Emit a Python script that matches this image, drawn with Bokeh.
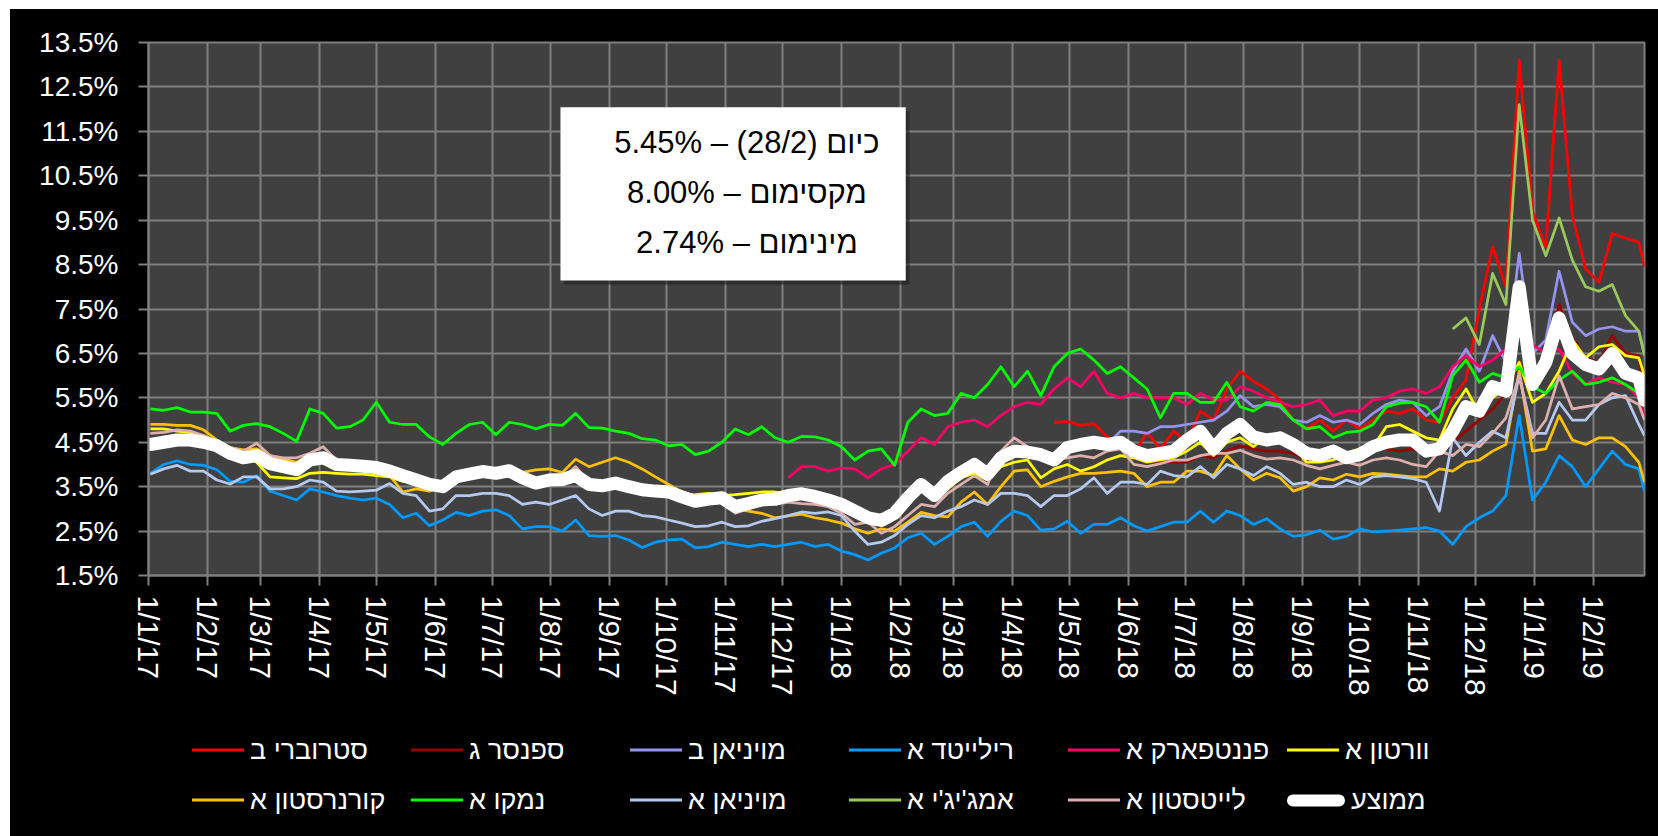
import numpy as np
import pandas as pd
from bokeh.plotting import figure
from bokeh.layouts import column
from bokeh.models import (Range1d, FixedTicker, ColumnDataSource, Div,
                          BoxAnnotation, Label, PrintfTickFormatter)
from bokeh.embed import file_html
from bokeh.resources import INLINE

nan = float("nan")

# ---------------- data ----------------
dates = list(pd.date_range("2017-01-02", periods=113, freq="7D")) + [pd.Timestamp("2019-02-28")]

tick_dates = ["2017-01-01", "2017-02-01", "2017-03-01", "2017-04-01", "2017-05-01", "2017-06-01",
              "2017-07-01", "2017-08-01", "2017-09-01", "2017-10-01", "2017-11-01", "2017-12-01",
              "2018-01-01", "2018-02-01", "2018-03-01", "2018-04-01", "2018-05-01", "2018-06-01",
              "2018-07-01", "2018-08-01", "2018-09-01", "2018-10-01", "2018-11-01", "2018-12-01",
              "2019-01-01", "2019-02-01"]
tick_labels = ["1/1/17", "1/2/17", "1/3/17", "1/4/17", "1/5/17", "1/6/17", "1/7/17", "1/8/17",
               "1/9/17", "1/10/17", "1/11/17", "1/12/17", "1/1/18", "1/2/18", "1/3/18", "1/4/18",
               "1/5/18", "1/6/18", "1/7/18", "1/8/18", "1/9/18", "1/10/18", "1/11/18", "1/12/18",
               "1/1/19", "1/2/19"]
y_ticks = [1.5, 2.5, 3.5, 4.5, 5.5, 6.5, 7.5, 8.5, 9.5, 10.5, 11.5, 12.5, 13.5]

names = ["סטרוברי ב", "ספנסר ג", "מויניאן ב", "רילייטד א", "פננטפארק א", "וורטון א",
         "קורנרסטון א", "נמקו א", "מויניאן א", "אמג'יג'י א", "לייטסטון א", "ממוצע"]

strawberry_b = [nan] * 68 + [
    4.95, 4.97, 4.88, 4.92, 4.62, 4.5, 4.25, 4.72, 4.35, 4.75, 4.5, 5.2, 5.0, 5.7, 6.1, 5.87,
    5.7, 5.45, 5.0, 4.8, 5.0, 4.75, 5.0,
    4.8, 5.0, 5.2, 5.15, 5.25, 5.0, 4.95, 5.5, 5.9, 7.5, 8.9, 8.0, 13.1, 9.7, 8.9, 13.1,
    9.6, 8.4, 8.1, 9.2, 9.1, 9.0, 8.45]

spencer_g = [nan] * 68 + [
    4.05, 4.3, 4.35, 4.4, 4.35, 4.4, 4.15, 4.05, 4.05, 4.05, 4.05, 4.2, 4.15, 4.3, 4.42, 4.35,
    4.3, 4.3, 4.25, 4.1, 4.1, 4.15, 4.2,
    4.3, 4.35, 4.35, 4.3, 4.35, 4.25, 4.4, 4.5, 4.75, 5.0, 5.25, 5.6, 6.3, 5.7, 6.1, 7.6,
    6.85, 6.4, 6.3, 6.9, 6.5, 6.45, 5.3]

moinian_b = [nan] * 55 + [
    2.85, 3.0, 3.35, 3.5, 3.3, 3.6, 3.8, 4.0, 3.8, 4.1, 4.3, 4.2, 4.2,
    4.15, 4.4, 4.45, 4.5, 4.45, 4.75, 4.75, 4.7, 4.85, 4.85, 4.9, 4.95, 5.0, 5.2, 5.55, 5.3,
    5.35, 5.3, 5.0, 4.95, 5.1, 4.95, 5.0,
    4.9, 5.15, 5.35, 5.45, 5.4, 5.1, 5.3, 6.1, 6.6, 6.1, 6.9, 6.3, 8.75, 6.5, 6.8, 8.35,
    7.2, 6.9, 7.05, 7.1, 7.0, 7.0, 6.5]

related_a = [
    3.8, 4.0, 4.08, 4.0, 3.98, 3.88, 3.62, 3.6, 3.75, 3.4, 3.3, 3.2, 3.45, 3.38, 3.3, 3.24,
    3.2, 3.24, 3.1, 2.8, 2.9, 2.62, 2.75,
    2.92, 2.85, 2.95, 2.98, 2.85, 2.55, 2.6, 2.6, 2.5, 2.75, 2.4, 2.38, 2.4, 2.3, 2.13, 2.25,
    2.3, 2.32, 2.12, 2.15, 2.25, 2.2, 2.15,
    2.2, 2.15, 2.2, 2.25, 2.15, 2.2, 2.05, 1.97, 1.85, 2.0, 2.12, 2.35, 2.45, 2.2, 2.38, 2.6,
    2.7, 2.38, 2.72, 2.95, 2.85, 2.52,
    2.55, 2.72, 2.45, 2.65, 2.65, 2.8, 2.62, 2.5, 2.6, 2.7, 2.7, 2.95, 2.7, 2.95, 2.85, 2.65,
    2.78, 2.55, 2.38, 2.42, 2.52, 2.32, 2.38,
    2.55, 2.48, 2.5, 2.52, 2.55, 2.58, 2.5, 2.2, 2.6, 2.8, 2.95, 3.3, 5.1, 3.2, 3.6, 4.2,
    3.95, 3.5, 3.9, 4.3, 4.0, 3.9, 3.4]

pennantpark_a = [nan] * 48 + [
    3.7, 3.95, 3.95, 3.85, 3.92, 3.9, 3.7, 3.9, 4.0, 4.3, 4.6, 4.45, 4.85, 4.95, 5.0, 4.85,
    5.1, 5.3, 5.4, 5.35,
    5.7, 5.95, 5.75, 6.1, 5.6, 5.5, 5.6, 5.5, 5.5, 5.5, 5.35, 5.6, 5.45, 5.45, 5.75, 5.65,
    5.5, 5.4, 5.3, 5.35, 5.45, 5.1, 5.2,
    5.2, 5.45, 5.5, 5.65, 5.7, 5.6, 5.75, 6.2, 6.45, 6.2, 6.35, 6.6, 7.2, 6.7, 6.5, 6.6,
    6.05, 5.8, 5.95, 5.85, 5.8, 5.5, 5.1]

warton_a = [
    4.8, 4.8, 4.75, 4.72, 4.65, 4.5, 4.3, 4.2, 4.05, 3.72, 3.7, 3.68, 3.8, 3.82, 3.8, 3.78,
    3.78, 3.75, 3.72, 3.62, 3.6, 3.58, 3.55,
    3.7, 3.72, 3.75, 3.72, 3.78, 3.7, 3.6, 3.62, 3.6, 3.7, 3.55, 3.5, 3.52, 3.48, 3.42, 3.38,
    3.35, 3.3, 3.32, 3.35, 3.3, 3.32, 3.35,
    3.38, 3.38, 3.35, 3.3, 3.25, 3.15, 3.0, 2.9, 2.8, 2.72, 2.85, 3.1, 3.4, 3.2, 3.45, 3.7,
    3.8, 3.65, 3.95, 4.05, 4.1, 3.7,
    3.9, 4.0, 3.85, 3.95, 4.1, 4.2, 4.15, 4.05, 4.1, 4.15, 4.3, 4.5, 4.2, 4.5, 4.6, 4.4,
    4.65, 4.7, 4.4, 4.05, 4.05, 4.1, 4.25,
    4.35, 4.4, 4.85, 4.9, 4.75, 4.6, 4.55, 5.25, 5.7, 5.15, 5.5, 5.75, 6.3, 5.4, 5.6, 6.1,
    6.8, 6.4, 6.65, 6.7, 6.45, 6.4, 6.0]

cornerstone_a = [
    4.9, 4.9, 4.88, 4.88, 4.78, 4.55, 4.38, 4.33, 4.35, 4.2, 4.12, 4.05, 4.2, 4.22, 4.1, 4.08,
    4.02, 3.8, 3.75, 3.38, 3.45, 3.4, 3.5,
    3.62, 3.75, 3.8, 3.78, 3.95, 3.82, 3.88, 3.9, 3.82, 4.12, 3.95, 4.05, 4.15, 4.05, 3.9, 3.72,
    3.55, 3.38, 3.3, 3.25, 3.3, 3.0, 2.95,
    2.9, 2.8, 2.84, 2.88, 2.8, 2.75, 2.68, 2.55, 2.45, 2.55, 2.5, 2.7, 2.92, 2.85, 2.82, 3.15,
    3.38, 3.1, 3.5, 3.85, 3.88, 3.5,
    3.62, 3.72, 3.8, 3.8, 3.82, 3.85, 3.8, 3.5, 3.6, 3.6, 3.85, 3.85, 3.75, 4.2, 3.9, 3.65,
    3.8, 3.7, 3.4, 3.5, 3.7, 3.65, 3.78,
    3.72, 3.8, 3.78, 3.75, 3.72, 3.72, 3.9, 3.85, 4.05, 4.1, 4.3, 4.45, 6.1, 4.3, 4.35, 5.1,
    4.55, 4.45, 4.6, 4.6, 4.4, 4.05, 3.6]

namco_a = [
    5.25, 5.22, 5.28, 5.18, 5.18, 5.15, 4.75, 4.88, 4.92, 4.85, 4.7, 4.52, 5.25, 5.15, 4.82, 4.85,
    5.0, 5.4, 4.95, 4.9, 4.9, 4.62, 4.45,
    4.7, 4.9, 4.95, 4.67, 4.95, 4.9, 4.8, 4.9, 4.88, 5.15, 4.83, 4.82, 4.75, 4.7, 4.58, 4.55,
    4.42, 4.45, 4.22, 4.3, 4.5, 4.8, 4.67,
    4.85, 4.6, 4.5, 4.63, 4.62, 4.55, 4.4, 4.1, 4.3, 4.35, 3.98, 4.95, 5.25, 5.1, 5.15, 5.6,
    5.5, 5.8, 6.2, 5.75, 6.1, 5.55,
    6.2, 6.5, 6.6, 6.35, 6.05, 6.2, 5.95, 5.7, 5.05, 5.6, 5.6, 5.4, 5.4, 5.85, 5.3, 5.2,
    5.4, 5.35, 5.0, 4.8, 4.85, 4.6, 4.72,
    4.75, 4.9, 5.3, 5.38, 5.4, 5.3, 4.95, 6.0, 6.35, 5.85, 6.05, 5.95, 6.2, 5.75, 5.6, 5.9,
    6.1, 5.8, 5.85, 5.95, 5.8, 5.6, 5.3]

moinian_a = [
    3.78, 3.9, 3.98, 3.85, 3.85, 3.65, 3.56, 3.72, 3.72, 3.45, 3.45, 3.5, 3.65, 3.6, 3.4, 3.38,
    3.4, 3.42, 3.57, 3.35, 3.3, 2.95, 3.0,
    3.3, 3.3, 3.35, 3.35, 3.3, 3.1, 3.15, 3.1, 3.2, 3.3, 3.0, 2.85, 2.95, 2.95, 2.85, 2.82,
    2.75, 2.68, 2.6, 2.62, 2.7, 2.6, 2.62,
    2.72, 2.78, 2.85, 2.93, 2.9, 2.93, 2.85, 2.5, 2.2, 2.25, 2.4, 2.65, 2.85, 2.8, 2.95, 3.05,
    3.2, 3.1, 3.35, 3.35, 3.3, 3.05,
    3.3, 3.3, 3.45, 3.7, 3.35, 3.6, 3.6, 3.55, 3.85, 3.75, 3.72, 3.95, 3.7, 4.0, 3.9, 3.75,
    3.95, 3.8, 3.55, 3.6, 3.5, 3.5, 3.65,
    3.55, 3.72, 3.75, 3.72, 3.68, 3.6, 2.95, 4.6, 4.2, 4.5, 4.75, 4.6, 6.0, 4.7, 4.7, 5.4,
    5.0, 5.0, 5.35, 5.5, 5.55, 4.9, 4.65]

amgigi_a = [nan] * 98 + [
    7.05, 7.3, 6.7, 8.3, 7.6, 12.1, 9.5, 8.7, 9.55, 8.6, 8.0, 7.9, 8.05, 7.35, 7.0, 6.45]

lightstone_a = [
    4.7, 4.72, 4.78, 4.75, 4.65, 4.5, 4.38, 4.3, 4.48, 4.2, 4.15, 4.15, 4.25, 4.4, 4.1, 4.08,
    4.0, 3.95, 3.85, 3.7, 3.6, 3.52, 3.5,
    3.72, 3.78, 3.82, 3.8, 3.88, 3.72, 3.6, 3.68, 3.7, 3.95, 3.6, 3.55, 3.6, 3.52, 3.45, 3.42,
    3.4, 3.3, 3.2, 3.3, 3.35, 2.9, 3.0,
    3.12, 3.1, 3.15, 3.12, 3.1, 3.05, 2.9, 2.65, 2.7, 2.45, 2.6, 2.85, 3.1, 3.05, 3.35, 3.55,
    3.75, 3.55, 4.3, 4.6, 4.4, 4.15,
    4.1, 4.15, 4.2, 4.15, 4.3, 4.35, 4.0, 3.95, 4.02, 4.1, 4.1, 4.2, 4.25, 4.25, 4.32, 4.2,
    4.12, 4.15, 4.1, 3.98, 3.9, 3.98, 4.05,
    3.98, 4.1, 4.15, 4.1, 4.0, 3.95, 4.3, 4.2, 4.45, 4.4, 4.7, 5.05, 6.0, 4.6, 5.0, 6.0,
    5.25, 5.3, 5.35, 5.6, 5.5, 5.35, 5.0]

average = [
    4.45, 4.5, 4.55, 4.55, 4.5, 4.42, 4.25, 4.15, 4.2, 4.02, 3.95, 3.88, 4.1, 4.15, 4.0, 3.98,
    3.96, 3.93, 3.85, 3.75, 3.65, 3.55, 3.5,
    3.72, 3.78, 3.84, 3.8, 3.86, 3.7, 3.58, 3.65, 3.66, 3.75, 3.55, 3.52, 3.58, 3.5, 3.43, 3.4,
    3.38, 3.27, 3.17, 3.22, 3.25, 3.05, 3.12,
    3.2, 3.22, 3.3, 3.34, 3.28, 3.2, 3.1, 2.95, 2.8, 2.74, 2.9, 3.25, 3.55, 3.3, 3.62, 3.82,
    4.0, 3.78, 4.15, 4.3, 4.28, 4.22,
    4.1, 4.38, 4.45, 4.5, 4.45, 4.5, 4.3, 4.2, 4.25, 4.3, 4.55, 4.75, 4.35, 4.7, 4.9, 4.62,
    4.55, 4.6, 4.45, 4.25, 4.2, 4.3, 4.15,
    4.22, 4.4, 4.5, 4.55, 4.55, 4.3, 4.35, 4.75, 5.3, 5.2, 5.75, 5.65, 8.0, 5.8, 6.3, 7.3,
    6.5, 6.25, 6.15, 6.5, 6.05, 5.95, 5.45]

box_lines = ["5.45% – (28/2) כיום", "8.00% – מקסימום", "2.74% – מינימום"]

# ---------------- figure ----------------
def ms(s):
    return pd.Timestamp(s).value // 10**6

series = [strawberry_b, spencer_g, moinian_b, related_a, pennantpark_a, warton_a,
          cornerstone_a, namco_a, moinian_a, amgigi_a, lightstone_a, average]
colors = ["#FF0000", "#990000", "#9494F0", "#0099FF", "#FF0066", "#FFFF00",
          "#FFC000", "#00FF00", "#B4C8F0", "#9BC85A", "#DDB0AD", "#FFFFFF"]

data = {"date": pd.to_datetime(dates)}
for i, s in enumerate(series):
    data[f"s{i}"] = np.array(s, dtype=float)
src = ColumnDataSource(data)

GRID = "#7F7F7F"
p = figure(frame_width=1496, frame_height=533, x_axis_type="datetime",
           x_range=Range1d(ms("2017-01-01"), ms("2019-02-28")),
           y_range=Range1d(1.5, 13.5),
           output_backend="svg", toolbar_location=None,
           min_border_left=138, min_border_right=14, min_border_top=33, min_border_bottom=140)
p.background_fill_color = "#404040"
p.border_fill_color = "black"
p.outline_line_color = GRID
p.outline_line_width = 2

p.xaxis.ticker = FixedTicker(ticks=[ms(d) for d in tick_dates])
p.xaxis.major_label_overrides = {int(ms(d)): lab for d, lab in zip(tick_dates, tick_labels)}
p.xaxis.major_label_orientation = "vertical"
p.yaxis.ticker = FixedTicker(ticks=y_ticks)
p.yaxis.formatter = PrintfTickFormatter(format="%.1f%%")

for ax in (p.xaxis, p.yaxis):
    ax.axis_line_color = GRID
    ax.axis_line_width = 2
    ax.major_tick_line_color = GRID
    ax.major_tick_line_width = 2
    ax.major_tick_out = 10
    ax.major_tick_in = 0
    ax.minor_tick_line_color = None
    ax.major_label_text_color = "white"
    ax.major_label_text_font = "Liberation Sans"
p.xaxis.major_label_text_font_size = "30px"
p.yaxis.major_label_text_font_size = "28px"
p.xaxis.major_label_standoff = 10
p.yaxis.major_label_standoff = 20

p.xgrid.ticker = FixedTicker(ticks=[ms(d) for d in tick_dates])
p.ygrid.ticker = FixedTicker(ticks=y_ticks)
for g in (p.xgrid, p.ygrid):
    g.grid_line_color = GRID
    g.grid_line_width = 2

for i, c in enumerate(colors):
    if i == len(colors) - 1:
        p.line("date", f"s{i}", source=src, line_color=c, line_width=13,
               line_join="round", line_cap="round")
    else:
        p.line("date", f"s{i}", source=src, line_color=c, line_width=2.75, line_join="round")

# text box
p.add_layout(BoxAnnotation(left=ms("2017-08-08"), right=ms("2018-02-05 21:00"),
                           top=11.95, bottom=8.05, fill_color="#202020", fill_alpha=0.6,
                           line_color=None))
p.add_layout(BoxAnnotation(left=ms("2017-08-06"), right=ms("2018-02-03 21:00"),
                           top=12.04, bottom=8.14, fill_color="white", fill_alpha=1.0,
                           line_color=None))
for txt, yy in zip(box_lines, [11.25, 10.12, 9.0]):
    p.add_layout(Label(x=ms("2017-11-12 05:00"), y=yy, text=txt, text_align="center",
                       text_baseline="middle", text_font_size="31px",
                       text_font="Liberation Sans", text_color="black"))

# ---------------- legend strip (HTML) ----------------
items_html = []
for idx, (name, c) in enumerate(zip(names, colors)):
    col, row = idx % 6, idx // 6
    left = 182 + 219 * col
    top = 35 + 50 * row
    if idx == len(names) - 1:
        sample = (f'<span style="display:inline-block;width:58px;height:12px;border-radius:6px;'
                  f'background:{c};"></span>')
    else:
        sample = (f'<span style="display:inline-block;width:52px;height:3px;'
                  f'background:{c};"></span>')
    items_html.append(
        f'<div style="position:absolute;left:{left}px;top:{top}px;transform:translateY(-50%);'
        f'display:flex;align-items:center;white-space:nowrap;">{sample}'
        f'<span dir="rtl" style="margin-left:6px;">{name}</span></div>')

legend_div = Div(
    text=('<div style="position:relative;width:1648px;height:121px;background:#000;'
          'font-family:\'Liberation Sans\';font-size:27px;color:#fff;line-height:1;">'
          + "".join(items_html) + '</div>'),
    width=1648, height=121, styles={"background-color": "black", "margin": "0", "padding": "0"})

layout = column(p, legend_div, spacing=0)
layout.styles = {"margin-left": "10px", "margin-top": "9px", "background-color": "black"}

open("out.html", "w").write(file_html(layout, INLINE))
